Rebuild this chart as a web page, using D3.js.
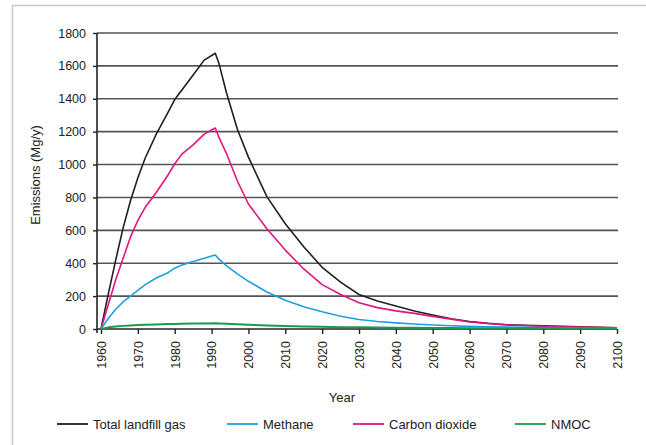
<!DOCTYPE html>
<html><head><meta charset="utf-8">
<script src="https://cdn.jsdelivr.net/npm/d3@7"></script>
<style>
html,body{margin:0;padding:0;background:#fff;}
svg{display:block;font-family:"Liberation Sans",Arial,sans-serif;}
</style></head>
<body>
<svg id="chart" width="646" height="445"></svg>
<script>
const years = [1960,1962,1964,1966,1968,1970,1972,1975,1978,1980,1982,1985,1988,1991,1992,1994,1997,2000,2005,2010,2015,2020,2025,2030,2035,2040,2045,2050,2055,2060,2065,2070,2080,2090,2100];
const totalGas = [0,215,420,615,780,920,1040,1185,1310,1395,1455,1545,1635,1677,1615,1440,1215,1045,805,640,500,375,285,210,170,140,110,85,62,46,34,26,19,13,8];
const methane = [0,65,120,165,200,235,270,310,340,370,390,410,430,450,425,385,335,290,225,175,135,105,78,58,46,37,30,24,20,16,14,12,9,7,5];
const carbonDioxide = [0,150,300,430,560,660,740,830,930,1005,1065,1120,1185,1222,1165,1070,900,760,610,480,365,270,210,160,130,110,95,77,60,43,33,25,16,12,8];
const nmoc = [0,10,15,19,22,24,26,28,30,31,32,33,34,35,34,32,29,26,22,18,15,13,11,10,9,8,7,6,6,5,5,4,4,3,3];
const yTicks = [0,200,400,600,800,1000,1200,1400,1600,1800];
const xTicks = [1960,1970,1980,1990,2000,2010,2020,2030,2040,2050,2060,2070,2080,2090,2100];
const seriesNames = ["Total landfill gas","Methane","Carbon dioxide","NMOC"];
const seriesColors = ["#231f20","#1fa0dd","#e2157f","#1b9a4c"];
const seriesData = [totalGas, methane, carbonDioxide, nmoc];

const svg = d3.select("#chart");
// outer frame
svg.append("path").attr("d","M12.5,445 V5.5 H646").attr("fill","none").attr("stroke","#c8c8c8").attr("stroke-width",1.5);

const x = d3.scaleLinear().domain([1960,2100]).range([101,617]);
const y = d3.scaleLinear().domain([0,1800]).range([329,33]);
const axisX = 97;

// gridlines
svg.append("g").selectAll("line").data(yTicks.filter(d=>d>0)).join("line")
  .attr("x1",axisX).attr("x2",618).attr("y1",d=>y(d)).attr("y2",d=>y(d))
  .attr("stroke","#555").attr("stroke-width",1.6);

// y axis
const yAxis = d3.axisLeft(y).tickValues(yTicks).tickSize(4).tickPadding(7).tickFormat(d3.format("d"));
const gy = svg.append("g").attr("transform",`translate(${axisX},0)`).call(yAxis);
gy.select(".domain").attr("d","M0,33 V333").attr("stroke","#222").attr("stroke-width",1.6);
gy.selectAll(".tick line").attr("stroke","#222").attr("stroke-width",1.4);
gy.selectAll(".tick text").attr("font-size","12.5px").attr("fill","#222").attr("font-family","Liberation Sans, Arial, sans-serif");

// x axis
const xAxis = d3.axisBottom(x).tickValues(xTicks).tickSize(5).tickFormat(d3.format("d"));
const gx = svg.append("g").attr("transform","translate(0,329)").call(xAxis);
gx.select(".domain").attr("d",`M${axisX},0 H617`).attr("stroke","#222").attr("stroke-width",1.6);
gx.selectAll(".tick line").attr("stroke","#222").attr("stroke-width",1.4);
gx.selectAll(".tick text").attr("font-size","12.5px").attr("fill","#222")
  .attr("font-family","Liberation Sans, Arial, sans-serif")
  .attr("text-anchor","end").attr("transform","rotate(-90)")
  .attr("x",-12).attr("y",0).attr("dy","0.35em");

// lines
const line = d3.line().x((d,i)=>x(years[i])).y(d=>y(d));
[0,2,1,3].forEach(k=>{
  svg.append("path").datum(seriesData[k]).attr("d",line)
    .attr("fill","none").attr("stroke",seriesColors[k]).attr("stroke-width",k===3?2:1.6)
    .attr("stroke-linejoin","round");
});

// axis titles
svg.append("text").attr("transform","translate(40,175) rotate(-90)").attr("text-anchor","middle")
  .attr("font-size","13px").attr("fill","#222").text("Emissions (Mg/y)");
svg.append("text").attr("x",342).attr("y",401.5).attr("text-anchor","middle")
  .attr("font-size","13px").attr("fill","#222").text("Year");

// legend
const legX = [57,227,353,515];
const leg = svg.append("g");
seriesNames.forEach((n,i)=>{
  leg.append("line").attr("x1",legX[i]).attr("x2",legX[i]+31).attr("y1",424).attr("y2",424)
    .attr("stroke",seriesColors[i]).attr("stroke-width",1.8);
  leg.append("text").attr("x",legX[i]+36).attr("y",428.5).attr("font-size","13px").attr("fill","#222").text(n);
});
</script>
</body></html>
